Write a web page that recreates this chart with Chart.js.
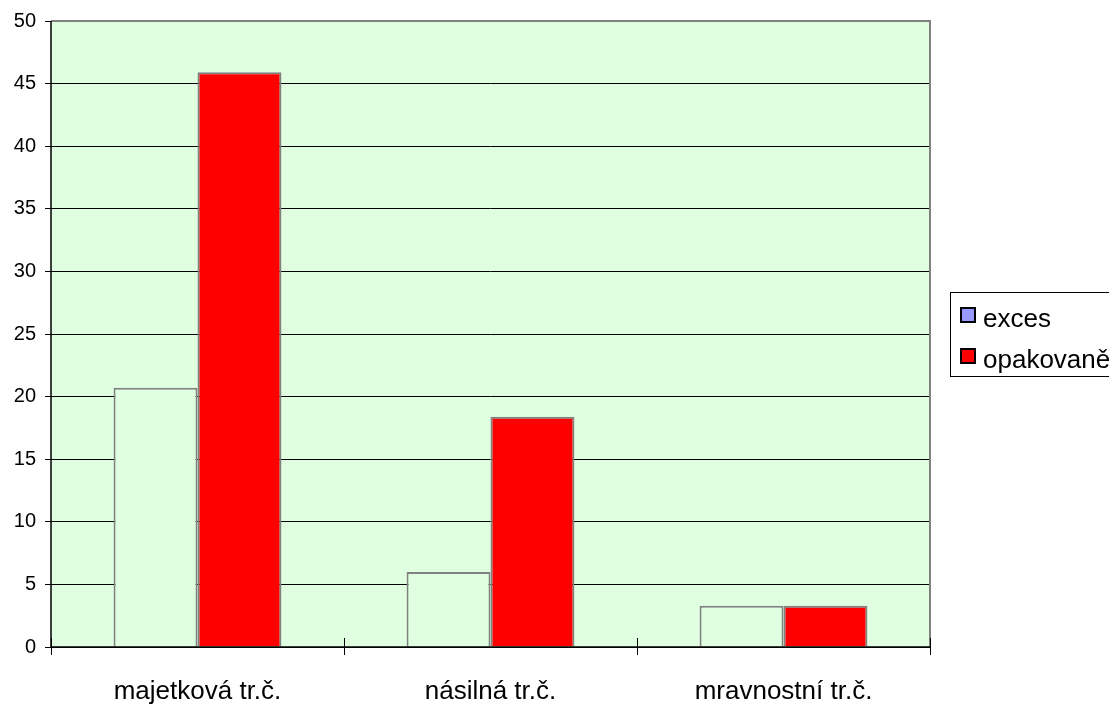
<!DOCTYPE html>
<html>
<head>
<meta charset="utf-8">
<script src="https://cdn.jsdelivr.net/npm/chart.js@4/dist/chart.umd.min.js"></script>
<style>
html,body{margin:0;padding:0;background:#fff;}
#wrap{width:1109px;height:704px;position:relative;overflow:hidden;}
</style>
</head>
<body>
<div id="wrap"><canvas id="c" width="1109" height="704"></canvas></div>
<script>
const categories = ['majetková tr.č.', 'násilná tr.č.', 'mravnostní tr.č.'];
const seriesNames = ['exces', 'opakovaně'];
const excesValues = [20.7, 6.0, 3.3];
const opakovaneValues = [45.9, 18.4, 3.3];
const yTicks = [0, 5, 10, 15, 20, 25, 30, 35, 40, 45, 50];

const plotBg = '#e0ffe0';
const legendSwatches = ['#9999ff', '#ff0000'];
const fontFamily = '"Liberation Sans", Arial, sans-serif';

const plotBgPlugin = {
  id: 'plotBg',
  beforeDraw(chart) {
    const a = chart.chartArea, ctx = chart.ctx;
    ctx.save();
    ctx.fillStyle = plotBg;
    ctx.fillRect(a.left, a.top, a.right - a.left, a.bottom - a.top);
    ctx.restore();
  },
  afterDraw(chart) {
    const a = chart.chartArea, ctx = chart.ctx;
    ctx.save();
    ctx.strokeStyle = '#808080';
    ctx.lineWidth = 2;
    ctx.beginPath();
    ctx.moveTo(a.left, a.top);
    ctx.lineTo(a.right, a.top);
    ctx.lineTo(a.right, a.bottom);
    ctx.stroke();
    ctx.strokeStyle = '#000';
    ctx.lineWidth = 1.5;
    ctx.beginPath();
    ctx.moveTo(a.left, a.top);
    ctx.lineTo(a.left, a.bottom);
    ctx.lineTo(a.right, a.bottom);
    ctx.stroke();
    const xs = chart.scales.x;
    ctx.lineWidth = 1;
    for (let i = 0; i <= categories.length; i++) {
      const x = Math.round(xs.getPixelForValue(i - 0.5)) + 0.5;
      ctx.beginPath();
      ctx.moveTo(x, a.bottom - 9);
      ctx.lineTo(x, a.bottom + 8);
      ctx.stroke();
    }
    // legend
    const lx = 950.5, ly = 292.5, lw = 170, lh = 84;
    ctx.strokeStyle = '#000';
    ctx.lineWidth = 1;
    ctx.strokeRect(lx, ly, lw, lh);
    ctx.font = '26px ' + fontFamily;
    ctx.textBaseline = 'alphabetic';
    ctx.textAlign = 'left';
    chart.data.datasets.forEach((ds, i) => {
      const sy = 308 + i * 41;
      ctx.fillStyle = legendSwatches[i];
      ctx.fillRect(961, sy, 14, 14);
      ctx.strokeStyle = '#000';
      ctx.lineWidth = 2;
      ctx.strokeRect(961, sy, 14, 14);
      ctx.fillStyle = '#000';
      ctx.fillText(ds.label, 983, sy + 19);
    });
    ctx.restore();
  }
};

new Chart(document.getElementById('c'), {
  type: 'bar',
  data: {
    labels: categories,
    datasets: [
      {
        label: seriesNames[0],
        data: excesValues,
        backgroundColor: plotBg,
        borderColor: '#808080',
        borderWidth: 2,
        barPercentage: 1,
        categoryPercentage: 0.573
      },
      {
        label: seriesNames[1],
        data: opakovaneValues,
        backgroundColor: '#ff0000',
        borderColor: '#808080',
        borderWidth: 2,
        barPercentage: 1,
        categoryPercentage: 0.573
      }
    ]
  },
  options: {
    responsive: false,
    animation: false,
    layout: { padding: { top: 20, right: 179, left: 0, bottom: 0 } },
    plugins: {
      legend: { display: false },
      tooltip: { enabled: false }
    },
    scales: {
      x: {
        grid: { display: false, drawOnChartArea: false },
        border: { display: false },
        ticks: {
          color: '#000',
          padding: 21,
          font: { family: fontFamily, size: 26 },
          maxRotation: 0
        },
        afterFit(scale) { scale.height = 57; }
      },
      y: {
        min: 0,
        max: 50,
        afterBuildTicks(scale) { scale.ticks = yTicks.map(v => ({ value: v })); },
        grid: {
          color: '#000',
          lineWidth: 1,
          tickLength: 6,
          drawTicks: true
        },
        border: { display: false },
        ticks: {
          color: '#000',
          padding: 9,
          font: { family: fontFamily, size: 20 }
        },
        afterFit(scale) { scale.width = 51; }
      }
    }
  },
  plugins: [plotBgPlugin]
});
</script>
</body>
</html>
